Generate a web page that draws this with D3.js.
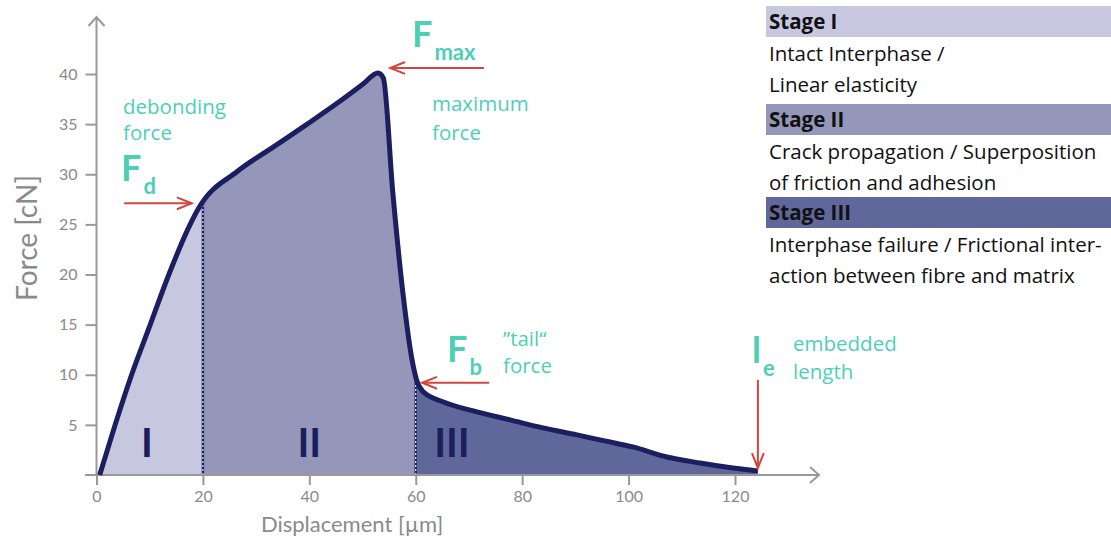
<!DOCTYPE html>
<html>
<head>
<meta charset="utf-8">
<script src="https://cdn.jsdelivr.net/npm/d3@7"></script>
<style>
body { margin: 0; background: #fff; }
svg { display: block; font-family: "Open Sans", Lato, sans-serif; }
</style>
</head>
<body>
<div id="chart"></div>
<script>
// pull-out curve
const disp  = [0.6, 3.5, 6.6, 10.1, 13.6, 17.6, 19.3, 26.5, 33.2, 39.6, 45.8, 50.1, 52.9, 53.9, 55.7, 57.6, 59.3, 60.2, 61.4, 65.1, 71.5, 77.7, 83.9, 90.3, 95.5, 100.8, 107.2, 113.4, 119.6, 124.3];
const force = [0,   5,   10,  15,   20,   25,   26.7, 30.3, 32.7, 35.0, 37.3, 39.0, 40.1, 39.6, 28.1, 18.1, 11.5, 9.4,  8.3,  7.3,  6.3,  5.5,  4.7,  4.0,  3.4,  2.8,   1.8,   1.2,   0.7,   0.4];

const stageEdges = [0, 20, 60, 130];
const stageNames = ["I", "II", "III"];
const stageLabelX = [9.5, 40, 66.8];
const stageColors = ["#c7c8df", "#9497b9", "#60679a"];

const xTicks = [0, 20, 40, 60, 80, 100, 120];
const yTicks = [5, 10, 15, 20, 25, 30, 35, 40];

const legendHeads = ["Stage I", "Stage II", "Stage III"];
const legendLines = [
  ["Intact Interphase /", "Linear elasticity"],
  ["Crack propagation / Superposition", "of friction and adhesion"],
  ["Interphase failure / Frictional inter-", "action between fibre and matrix"]
];

const WIDTH = 1111, HEIGHT = 536;
const NAVY = "#1b1f5f", TEAL = "#4dcfb6", RED = "#d2453f", GREY = "#999", LABEL = "#8a8a8a";

const svg = d3.select("#chart").append("svg")
  .attr("width", WIDTH)
  .attr("height", HEIGHT);

const x = d3.scaleLinear().domain([0, 120]).range([96.5, 735]);
const y = d3.scaleLinear().domain([0, 40]).range([475, 74]);

const pts = disp.map((d, i) => [d, force[i]]);

// stage fills, clipped by displacement range
const area = d3.area()
  .x(d => x(d[0]))
  .y0(y(0))
  .y1(d => y(d[1]))
  .curve(d3.curveMonotoneX);

const defs = svg.append("defs");
stageNames.forEach((s, i) => {
  defs.append("clipPath").attr("id", "clip" + i)
    .append("rect")
    .attr("x", x(stageEdges[i]))
    .attr("y", 0)
    .attr("width", x(stageEdges[i + 1]) - x(stageEdges[i]))
    .attr("height", HEIGHT);
  svg.append("path")
    .datum(pts)
    .attr("clip-path", "url(#clip" + i + ")")
    .attr("fill", stageColors[i])
    .attr("d", area);
});

// dashed stage borders
function forceAt(v) {
  const i = d3.bisectLeft(disp, v);
  const t = (v - disp[i - 1]) / (disp[i] - disp[i - 1]);
  return force[i - 1] + t * (force[i] - force[i - 1]);
}
[stageEdges[1], stageEdges[2]].forEach(v => {
  svg.append("line")
    .attr("x1", x(v)).attr("x2", x(v))
    .attr("y1", y(0)).attr("y2", y(forceAt(v)))
    .attr("stroke", NAVY).attr("stroke-width", 2.4);
  svg.append("line")
    .attr("x1", x(v)).attr("x2", x(v))
    .attr("y1", y(0)).attr("y2", y(forceAt(v)))
    .attr("stroke", "#fff").attr("stroke-width", 1.1)
    .attr("stroke-dasharray", "2,2");
});

// axes
const xAxis = svg.append("g")
  .attr("transform", `translate(0,${y(0)})`)
  .call(d3.axisBottom(x).tickValues(xTicks).tickSize(10).tickPadding(6).tickFormat(d3.format("d")));
const yAxis = svg.append("g")
  .attr("transform", `translate(${x(0)},0)`)
  .call(d3.axisLeft(y).tickValues(yTicks).tickSize(11).tickPadding(8).tickFormat(d3.format("d")));
[xAxis, yAxis].forEach(g => {
  g.select(".domain").remove();
  g.selectAll("line").attr("stroke", GREY).attr("stroke-width", 2);
  g.selectAll("text").attr("fill", LABEL).attr("font-size", 16).attr("font-family", "Lato");
});

svg.append("line")
  .attr("x1", 85).attr("x2", 819)
  .attr("y1", y(0)).attr("y2", y(0))
  .attr("stroke", GREY).attr("stroke-width", 2);
svg.append("path")
  .attr("d", `M810,${y(0) - 8}L819,${y(0)}L810,${y(0) + 8}`)
  .attr("fill", "none").attr("stroke", GREY).attr("stroke-width", 2);
svg.append("line")
  .attr("x1", x(0)).attr("x2", x(0))
  .attr("y1", y(0)).attr("y2", 17)
  .attr("stroke", GREY).attr("stroke-width", 2);
svg.append("path")
  .attr("d", `M${x(0) - 8},26L${x(0)},17L${x(0) + 8},26`)
  .attr("fill", "none").attr("stroke", GREY).attr("stroke-width", 2);

svg.append("text")
  .attr("x", 352).attr("y", 532)
  .attr("text-anchor", "middle")
  .attr("font-size", 22).attr("font-family", "Lato").attr("fill", LABEL)
  .text("Displacement [µm]");
svg.append("text")
  .attr("transform", "translate(37,238) rotate(-90)")
  .attr("text-anchor", "middle")
  .attr("font-size", 28).attr("font-family", "Lato").attr("fill", LABEL)
  .text("Force [cN]");

// the curve itself
svg.append("path")
  .datum(pts)
  .attr("fill", "none")
  .attr("stroke", NAVY)
  .attr("stroke-width", 5)
  .attr("stroke-linejoin", "round")
  .attr("d", d3.line().x(d => x(d[0])).y(d => y(d[1])).curve(d3.curveMonotoneX));

// stage numerals
svg.selectAll(".stage")
  .data(stageNames)
  .enter().append("text")
  .attr("x", (d, i) => x(stageLabelX[i]))
  .attr("y", y(1.8))
  .attr("text-anchor", "middle")
  .attr("font-size", 40).attr("font-weight", 700).attr("font-family", "Lato")
  .attr("fill", NAVY)
  .text(d => d);

// red arrows (data units)
function arrow(x1, y1, x2, y2) {
  const X1 = x(x1), Y1 = y(y1), X2 = x(x2), Y2 = y(y2);
  const a = Math.atan2(Y2 - Y1, X2 - X1), L = 16, W = 0.38;
  svg.append("line")
    .attr("x1", X1).attr("y1", Y1).attr("x2", X2).attr("y2", Y2)
    .attr("stroke", RED).attr("stroke-width", 2);
  svg.append("path")
    .attr("d", `M${X2 - L * Math.cos(a - W)},${Y2 - L * Math.sin(a - W)}L${X2},${Y2}L${X2 - L * Math.cos(a + W)},${Y2 - L * Math.sin(a + W)}`)
    .attr("fill", "none").attr("stroke", RED).attr("stroke-width", 2);
}
arrow(5.2, 27.1, 17.9, 27.1);
arrow(72.8, 40.6, 55.2, 40.6);
arrow(73.8, 9.2, 61.2, 9.2);
arrow(124.3, 9.5, 124.3, 0.7);

// annotation text
function symbol(px, py, big, sub) {
  const t = svg.append("text")
    .attr("x", px).attr("y", py)
    .attr("font-family", "Lato").attr("font-weight", 700)
    .attr("fill", TEAL);
  t.append("tspan").attr("font-size", 36).text(big);
  t.append("tspan").attr("font-size", 22).attr("dx", 2).attr("dy", 13).text(sub);
}
function note(px, py, lines, gap) {
  const t = svg.append("text")
    .attr("x", px).attr("y", py)
    .attr("font-size", 20.5)
    .attr("fill", TEAL);
  lines.forEach((ln, j) => {
    t.append("tspan").attr("x", px).attr("dy", j ? gap : 0).text(ln);
  });
}
note(123, 114, ["debonding", "force"], 26);
symbol(121, 181, "F", "d");

symbol(412, 47, "F", "max");
note(432, 111, ["maximum", "force"], 29);

symbol(447, 362, "F", "b");
note(503, 346, ["\u201Dtail\u201C", "force"], 26.5);

symbol(752, 363, "l", "e");
note(793, 351, ["embedded", "length"], 28);

// stage legend on the right
const legendTop = [6, 104, 197];
legendHeads.forEach((h, i) => {
  const t = legendTop[i];
  svg.append("rect")
    .attr("x", 766).attr("y", t)
    .attr("width", WIDTH - 766).attr("height", 31)
    .attr("fill", stageColors[i]);
  svg.append("text")
    .attr("x", 769).attr("y", t + 23)
    .attr("font-size", 20.5).attr("font-weight", 700)
    .attr("fill", "#111")
    .text(h);
  legendLines[i].forEach((ln, j) => {
    svg.append("text")
      .attr("x", 769).attr("y", t + 55 + j * 31)
      .attr("font-size", 20.5)
      .attr("fill", "#111")
      .text(ln);
  });
});
</script>
</body>
</html>
